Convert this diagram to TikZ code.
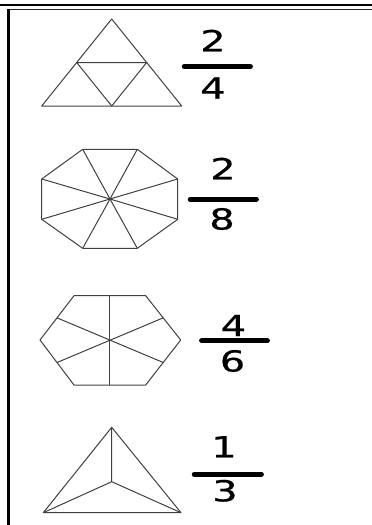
\documentclass[tikz,border=0pt]{standalone}
\usepackage{fontspec}
\setmainfont{DejaVu Sans}
\newfontfamily\digitfont[FakeStretch=1.38,FakeBold=0.6]{DejaVu Sans}
\usetikzlibrary{calc}
\begin{document}
\begin{tikzpicture}[x=1pt,y=-1pt,
  shp/.style={draw=black!75,line width=1pt,line join=round},
  digit/.style={inner sep=0pt,font=\digitfont\fontsize{29}{35}\selectfont},
  fbar/.style={line width=4.8pt,line cap=round}]
\useasboundingbox (0,0) rectangle (372,525);
% frame
\draw[line width=2.6pt] (0,5) -- (372,5);
\draw[line width=1.6pt,black!85] (7,9.5) -- (372,9.5);
\draw[line width=2.6pt] (8.5,8.7) -- (8.5,525);
% 1: triangle into 4
\coordinate (a1) at (111.7,19);
\coordinate (a2) at (41.7,106);
\coordinate (a3) at (181.7,106);
\coordinate (m1) at (76.7,62.5);
\coordinate (m2) at (146.7,62.5);
\coordinate (m3) at (111.7,106);
\draw[shp] (a1) -- (a2) -- (a3) -- cycle;
\draw[shp] (m1) -- (m2) -- (m3) -- cycle;
\node[digit] (n1) at (213,40.5) {2};
\node[digit] (d1) at (213,88) {4};
\coordinate (b1l) at (184.2,66.7); \coordinate (b1r) at (250.5,66.7);
\draw[fbar] (b1l) -- (b1r);
% 2: octagon
\coordinate (oc) at (110,199);
\coordinate (o1) at (82.7,149.3);
\coordinate (o2) at (137.3,149.3);
\coordinate (o3) at (177.7,179);
\coordinate (o4) at (177.7,219.3);
\coordinate (o5) at (137.3,248.3);
\coordinate (o6) at (82.7,248.3);
\coordinate (o7) at (41.7,219.3);
\coordinate (o8) at (41.7,179);
\draw[shp] (o1)--(o2)--(o3)--(o4)--(o5)--(o6)--(o7)--(o8)--cycle;
\foreach \v in {o1,o2,o3,o4,o5,o6,o7,o8} \draw[shp] (oc) -- (\v);
\node[digit] (n2) at (223,168.5) {2};
\node[digit] (d2) at (222,219) {8};
\coordinate (b2l) at (190.2,199.2); \coordinate (b2r) at (256.5,199.2);
\draw[fbar] (b2l) -- (b2r);
% 3: hexagon
\coordinate (hc) at (110,340);
\coordinate (h1) at (74,295.7);
\coordinate (h2) at (145.7,295.7);
\coordinate (h3) at (180.7,340);
\coordinate (h4) at (145.7,385);
\coordinate (h5) at (74,385);
\coordinate (h6) at (40,340);
\draw[shp] (h1)--(h2)--(h3)--(h4)--(h5)--(h6)--cycle;
\draw[shp] ($(h1)!0.5!(h2)$) -- ($(h4)!0.5!(h5)$);
\draw[shp] ($(h6)!0.5!(h1)$) -- ($(h3)!0.5!(h4)$);
\draw[shp] ($(h2)!0.5!(h3)$) -- ($(h5)!0.5!(h6)$);
\node[digit] (n3) at (233.5,325.5) {4};
\node[digit] (d3) at (232.5,361) {6};
\coordinate (b3l) at (201.5,340.8); \coordinate (b3r) at (267.5,340.8);
\draw[fbar] (b3l) -- (b3r);
% 4: triangle into 3
\coordinate (tc) at (111.7,481.7);
\coordinate (ta) at (111.7,427.3);
\coordinate (tb) at (43.3,512.7);
\coordinate (td) at (181,512.7);
\draw[shp] (ta) -- (tb) -- (td) -- cycle;
\draw[shp] (tc) -- (ta) (tc) -- (tb) (tc) -- (td);
\node[digit] (n4) at (224,446.7) {1};
\node[digit] (d4) at (225,490.8) {3};
\coordinate (b4l) at (194.2,474.2); \coordinate (b4r) at (261.5,474.2);
\draw[fbar] (b4l) -- (b4r);
\end{tikzpicture}
\end{document}
